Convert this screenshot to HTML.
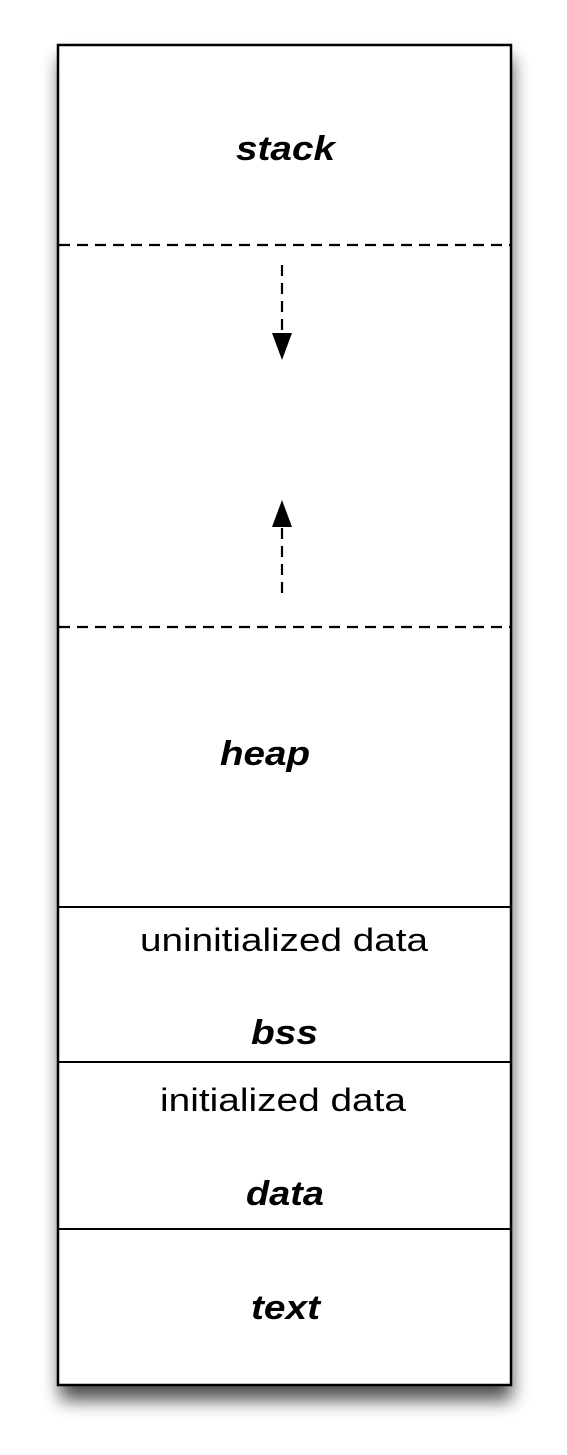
<!DOCTYPE html>
<html><head><style>
body{margin:0;background:#fff;width:567px;height:1450px;overflow:hidden}
</style></head><body>
<svg width="567" height="1450" xmlns="http://www.w3.org/2000/svg" font-family="Liberation Sans, sans-serif">
<defs><filter id="s" x="-20%" y="-20%" width="140%" height="140%"><feGaussianBlur stdDeviation="9"/></filter></defs>
<rect x="60" y="58" width="452" height="1342" fill="#000" opacity="0.7" filter="url(#s)"/>
<rect x="58" y="45" width="453" height="1340" fill="#fff" stroke="#000" stroke-width="2.5"/>
<g stroke="#000" stroke-width="2.2" stroke-dasharray="11,7">
<line x1="59" y1="245" x2="510" y2="245"/>
<line x1="59" y1="627" x2="510" y2="627"/>
<line x1="282" y1="265" x2="282" y2="333"/>
<line x1="282" y1="528" x2="282" y2="595"/>
</g>
<polygon points="272,333 292,333 282,360" fill="#000"/>
<polygon points="272,527 292,527 282,500" fill="#000"/>
<g stroke="#000" stroke-width="2">
<line x1="59" y1="907" x2="510" y2="907"/>
<line x1="59" y1="1062" x2="510" y2="1062"/>
<line x1="59" y1="1229" x2="510" y2="1229"/>
</g>
<g font-weight="bold" font-style="italic" font-size="34" lengthAdjust="spacingAndGlyphs">
<text x="236" y="160" textLength="99" lengthAdjust="spacingAndGlyphs">stack</text>
<text x="220" y="765" textLength="90" lengthAdjust="spacingAndGlyphs">heap</text>
<text x="251" y="1044" textLength="67" lengthAdjust="spacingAndGlyphs">bss</text>
<text x="246" y="1205" textLength="78" lengthAdjust="spacingAndGlyphs">data</text>
<text x="251" y="1319" textLength="69" lengthAdjust="spacingAndGlyphs">text</text>
</g>
<g font-size="32">
<text x="140" y="951" textLength="288" lengthAdjust="spacingAndGlyphs">uninitialized data</text>
<text x="160" y="1111" textLength="246" lengthAdjust="spacingAndGlyphs">initialized data</text>
</g>
</svg>
</body></html>
